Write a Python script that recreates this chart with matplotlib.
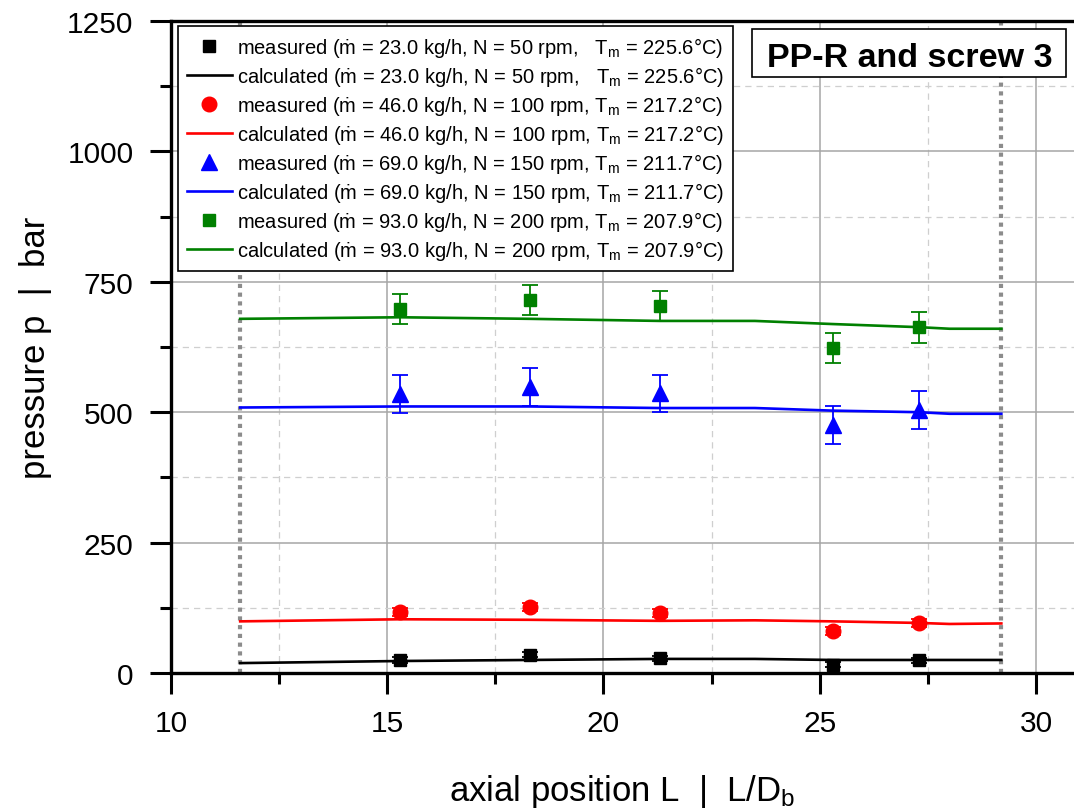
import matplotlib
matplotlib.use("Agg")
import matplotlib.pyplot as plt
from matplotlib.lines import Line2D
from matplotlib.patches import Rectangle

plt.rcParams["font.family"] = ["Liberation Sans", "DejaVu Sans"]
plt.rcParams["mathtext.fontset"] = "custom"
plt.rcParams["mathtext.rm"] = "Liberation Sans"
plt.rcParams["mathtext.it"] = "Liberation Sans:italic"

# measured pressure positions and values
x_meas = [15.3, 18.3, 21.3, 25.3, 27.3]
p_meas_23 = [25, 35, 28, 16, 24]
p_meas_46 = [117, 126, 115, 81, 96]
p_meas_69 = [535, 548, 536, 475, 504]
p_meas_93 = [698, 715, 704, 623, 663]
err_23 = [5, 5, 5, 5, 5]
err_46 = [8, 8, 8, 8, 8]
err_69 = [36, 36, 36, 36, 37]
err_93 = [29, 29, 29, 29, 30]

# calculated pressure curves
x_calc = [11.6, 15.3, 18.3, 21.3, 23.5, 25.3, 27.3, 28.0, 29.2]
p_calc_23 = [19, 23, 25, 27, 27, 25, 25, 25, 25]
p_calc_46 = [99, 103, 102, 100, 101, 99, 96, 94, 95]
p_calc_69 = [509, 511, 511, 508, 508, 503, 500, 497, 497]
p_calc_93 = [679, 682, 679, 675, 675, 669, 663, 660, 660]

# boundaries of the evaluated zone
x_bounds = [11.6, 29.2]

conditions = [
    "(ṁ = 23.0 kg/h, N = 50 rpm,   T$_\\mathregular{m}$ = 225.6°C)",
    "(ṁ = 46.0 kg/h, N = 100 rpm, T$_\\mathregular{m}$ = 217.2°C)",
    "(ṁ = 69.0 kg/h, N = 150 rpm, T$_\\mathregular{m}$ = 211.7°C)",
    "(ṁ = 93.0 kg/h, N = 200 rpm, T$_\\mathregular{m}$ = 207.9°C)",
]
colors = ["black", "#ff0000", "#0000ff", "#008000"]
markers = ["s", "o", "^", "s"]
msizes = [8.5, 10.5, 11, 8.5]

meas = [p_meas_23, p_meas_46, p_meas_69, p_meas_93]
errs = [err_23, err_46, err_69, err_93]
calc = [p_calc_23, p_calc_46, p_calc_69, p_calc_93]

fig = plt.figure(figsize=(10.74, 8.12), dpi=100)
ax = fig.add_axes([171 / 1074, 138 / 812, 903 / 1074, 652 / 812])

for xb in x_bounds:
    ax.axvline(xb, color="#8c8c8c", lw=3, ls=(0, (1, 1.1)), zorder=2)

handles = []
for cond, c, m, ms, pm, e, pc in zip(conditions, colors, markers, msizes, meas, errs, calc):
    ax.plot(x_calc, pc, color=c, lw=1.9, zorder=3)
    ax.errorbar(x_meas, pm, yerr=e, fmt=m, color=c, ms=ms, mec=c, elinewidth=1.3,
                capsize=6, capthick=1.3, zorder=4)
    handles.append(Line2D([], [], ls="none", marker=m, color=c, ms=ms,
                          label="measured " + cond))
    handles.append(Line2D([], [], color=c, lw=1.9, label="calculated " + cond))

ax.set_xlim(10, 30.88)
ax.set_ylim(0, 1250)
ax.set_xticks([10, 15, 20, 25, 30])
ax.set_xticks([12.5, 17.5, 22.5, 27.5], minor=True)
ax.set_yticks([0, 250, 500, 750, 1000, 1250])
ax.set_yticks([125, 375, 625, 875, 1125], minor=True)

ax.grid(which="major", color="#a6a6a6", lw=1.1, ls="-")
ax.grid(which="minor", color="#cfcfcf", lw=0.9, ls=(0, (5, 4)))
ax.set_axisbelow(True)

for side in ["left", "bottom", "top"]:
    ax.spines[side].set_linewidth(2.4)
ax.spines["right"].set_visible(False)
ax.tick_params(which="major", direction="out", length=15, width=2.2, labelsize=21.5)
ax.tick_params(which="minor", direction="out", length=8, width=2.2)
ax.tick_params(axis="x", pad=11)
ax.tick_params(axis="y", pad=12)

ax.set_xlabel("axial position L  |  L/D$_\\mathregular{b}$", fontsize=25, labelpad=25)
ax.set_ylabel("pressure p  |  bar", fontsize=25, labelpad=11)

leg = ax.legend(handles=handles, loc="upper left", bbox_to_anchor=(0.008, 0.993),
                borderaxespad=0, fontsize=14.5, frameon=True, fancybox=False,
                edgecolor="black", framealpha=1, handlelength=2.2, handletextpad=0.25,
                labelspacing=0.25, borderpad=0.45)
leg.get_frame().set_linewidth(1.2)
leg.set_zorder(6)

# title box in the upper right corner
ax.add_patch(Rectangle((0.6434, 0.9141), 0.3477, 0.0736, transform=ax.transAxes,
                       fc="white", ec="black", lw=1.2, zorder=6, clip_on=False))
ax.text(0.8184, 0.931, "PP-R and screw 3", transform=ax.transAxes, ha="center",
        va="baseline", fontsize=24.5, fontweight="bold", zorder=7)

fig.savefig("out.png", dpi=100)
